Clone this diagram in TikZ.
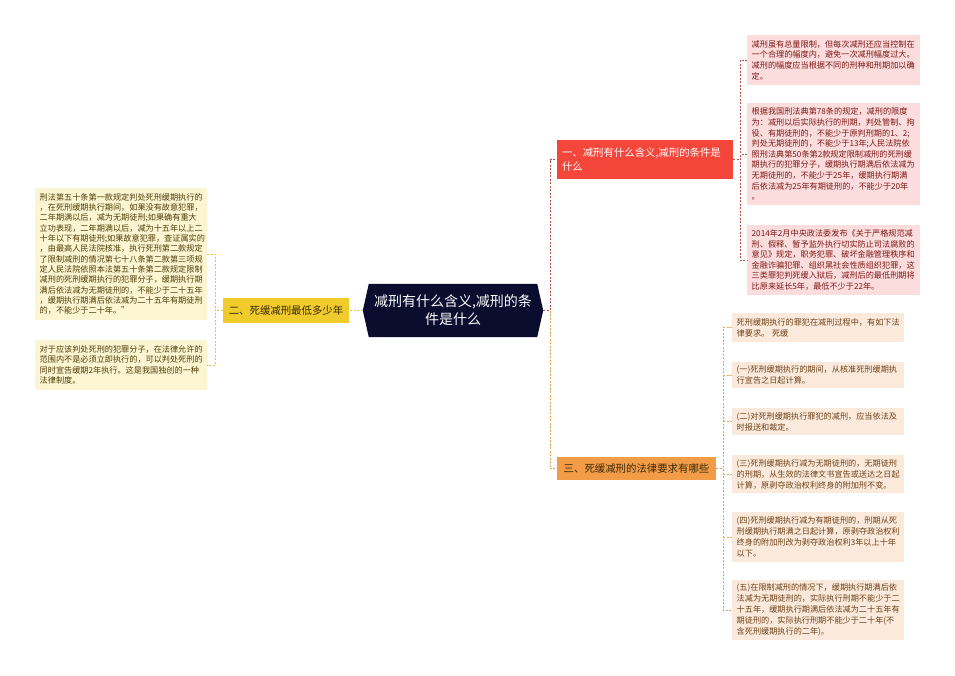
\documentclass[tikz,border=0pt]{standalone}
\usepackage{fontspec}
\setmainfont{Noto Sans CJK SC}
\usetikzlibrary{backgrounds}
\definecolor{rootfill}{HTML}{0B0D2E}
\definecolor{redfill}{HTML}{F5463C}
\definecolor{orangefill}{HTML}{F29C47}
\definecolor{yellowfill}{HTML}{EFCB2C}
\definecolor{leafYfill}{HTML}{FCF5D2}
\definecolor{leafYtext}{HTML}{4E3E08}
\definecolor{leafRfill}{HTML}{FCDDDD}
\definecolor{leafRtext}{HTML}{7E1616}
\definecolor{leafOfill}{HTML}{FBEADB}
\definecolor{leafOtext}{HTML}{6E4018}
\definecolor{lineYc}{HTML}{E6C43C}
\definecolor{lineRc}{HTML}{B8504A}
\definecolor{lineOc}{HTML}{E6A25A}
\definecolor{darktext}{HTML}{3A2A08}
\tikzset{
  leafbase/.style={anchor=west, align=left, inner xsep=4.5pt, inner ysep=0pt,
    font=\fontsize{8.15}{10.6}\selectfont},
  leafY/.style={leafbase, fill=leafYfill, text=leafYtext, text width=163pt,
    font=\fontsize{8.15}{10.3}\selectfont},
  leafR/.style={leafbase, fill=leafRfill, text=leafRtext, text width=164pt},
  leafO/.style={leafbase, fill=leafOfill, text=leafOtext, text width=163pt,
    font=\fontsize{8.15}{11}\selectfont},
  branch/.style={align=left, inner sep=0pt, font=\fontsize{10.4}{14}\selectfont},
  conn/.style={line width=0.9pt, dash pattern=on 2pt off 1.5pt},
  lineY/.style={conn, draw=lineYc},
  lineR/.style={conn, draw=lineRc},
  lineO/.style={conn, draw=lineOc},
}
\begin{document}
\begin{tikzpicture}[x=1pt,y=-1pt]
\useasboundingbox (0,0) rectangle (955,675);

% root
\node[minimum width=180pt, minimum height=53pt, inner sep=0pt, text=white,
  align=center, font=\fontsize{14}{18}\selectfont] (root) at (453,310.5)
  {减刑有什么含义,减刑的条\\件是什么};
\begin{scope}[on background layer]
\fill[white] (0,0) rectangle (955,675);
\fill[rootfill] (root.west) -- ([xshift=6pt]root.north west) -- ([xshift=-6pt]root.north east)
  -- (root.east) -- ([xshift=-6pt]root.south east) -- ([xshift=6pt]root.south west) -- cycle;
\end{scope}

% branches
\node[branch, fill=redfill, text=white, text width=166pt, minimum height=39pt, inner xsep=5pt] (b1) at (645,159.5)
  {一、减刑有什么含义,减刑的条件是\\什么};
\node[branch, fill=yellowfill, text=darktext, minimum width=126pt, minimum height=25pt, align=center] (b2) at (286,310.5)
  {二、死缓减刑最低多少年};
\node[branch, fill=orangefill, text=darktext, minimum width=159pt, minimum height=23pt, align=center] (b3) at (636.5,468.5)
  {三、死缓减刑的法律要求有哪些};

% left leaves
\node[leafY, minimum height=132pt] (l1) at (35,254)
  {刑法第五十条第一款规定判处死刑缓期执行的\\，在死刑缓期执行期间，如果没有故意犯罪，\\二年期满以后，减为无期徒刑;如果确有重大\\立功表现，二年期满以后，减为十五年以上二\\十年以下有期徒刑;如果故意犯罪，查证属实的\\，由最高人民法院核准，执行死刑第二款规定\\了限制减刑的情况第七十八条第二款第三项规\\定人民法院依照本法第五十条第二款规定限制\\减刑的死刑缓期执行的犯罪分子，缓期执行期\\满后依法减为无期徒刑的，不能少于二十五年\\，缓期执行期满后依法减为二十五年有期徒刑\\的，不能少于二十年。”};
\node[leafY, minimum height=50pt] (l2) at (35,365)
  {对于应该判处死刑的犯罪分子，在法律允许的\\范围内不是必须立即执行的，可以判处死刑的\\同时宣告缓期2年执行。这是我国独创的一种\\法律制度。};

% right top leaves
\node[leafR, minimum height=50pt] (a1) at (747,60)
  {减刑虽有总量限制，但每次减刑还应当控制在\\一个合理的幅度内，避免一次减刑幅度过大。\\减刑的幅度应当根据不同的刑种和刑期加以确\\定。};
\node[leafR, minimum height=102pt] (a2) at (747,154)
  {根据我国刑法典第78条的规定，减刑的限度\\为：减刑以后实际执行的刑期，判处管制、拘\\役、有期徒刑的，不能少于原判刑期的1、2;\\判处无期徒刑的，不能少于13年;人民法院依\\照刑法典第50条第2款规定限制减刑的死刑缓\\期执行的犯罪分子，缓期执行期满后依法减为\\无期徒刑的，不能少于25年，缓期执行期满\\后依法减为25年有期徒刑的，不能少于20年\\。};
\node[leafR, minimum height=70pt] (a3) at (747,260)
  {2014年2月中央政法委发布《关于严格规范减\\刑、假释、暂予监外执行切实防止司法腐败的\\意见》规定，职务犯罪、破坏金融管理秩序和\\金融诈骗犯罪、组织黑社会性质组织犯罪，这\\三类罪犯判死缓入狱后，减刑后的最低刑期将\\比原来延长5年，最低不少于22年。};

% right bottom leaves
\node[leafO, minimum height=29pt] (c1) at (732,327.5)
  {死刑缓期执行的罪犯在减刑过程中，有如下法\\律要求。 死缓};
\node[leafO, minimum height=26pt] (c2) at (732,375)
  {(一)死刑缓期执行的期间，从核准死刑缓期执\\行宣告之日起计算。};
\node[leafO, minimum height=27pt] (c3) at (732,421.5)
  {(二)对死刑缓期执行罪犯的减刑，应当依法及\\时报送和裁定。};
\node[leafO, minimum height=38pt] (c4) at (732,474)
  {(三)死刑缓期执行减为无期徒刑的，无期徒刑\\的刑期，从生效的法律文书宣告或送达之日起\\计算，原剥夺政治权利终身的附加刑不变。};
\node[leafO, minimum height=50pt] (c5) at (732,537)
  {(四)死刑缓期执行减为有期徒刑的，刑期从死\\刑缓期执行期满之日起计算，原剥夺政治权利\\终身的附加刑改为剥夺政治权利3年以上十年\\以下。};
\node[leafO, minimum height=60pt] (c6) at (732,610)
  {(五)在限制减刑的情况下，缓期执行期满后依\\法减为无期徒刑的，实际执行刑期不能少于二\\十五年，缓期执行期满后依法减为二十五年有\\期徒刑的，实际执行刑期不能少于二十年(不\\含死刑缓期执行的二年)。};

% spine coordinates
\coordinate (lsp) at (215,0);
\coordinate (rsp) at (550,0);
\coordinate (asp) at (740,0);
\coordinate (osp) at (723,0);

% connectors
\draw[lineY] (root.west) -- (b2.east);
\draw[lineY] (b2.west) -- (b2.west -| lsp);
\draw[lineY] (l1.east) -- (l1.east -| lsp) -- (l2.east -| lsp) -- (l2.east);

\draw[lineR] (root.east) -- (root.east -| rsp) |- (b1.west);
\draw[lineO] (root.east -| rsp) |- (b3.west);

\draw[lineR] (b1.east) -- (b1.east -| asp);
\draw[lineR] (a1.west) -- (a1.west -| asp) -- (a3.west -| asp) -- (a3.west);
\draw[lineR] (a2.west) -- (a2.west -| asp);

\draw[lineO] (b3.east) -- (b3.east -| osp);
\draw[lineO] (c1.west) -- (c1.west -| osp) -- (c6.west -| osp) -- (c6.west);
\foreach \n in {c2,c3,c4,c5} \draw[lineO] (\n.west) -- (\n.west -| osp);
\end{tikzpicture}
\end{document}
